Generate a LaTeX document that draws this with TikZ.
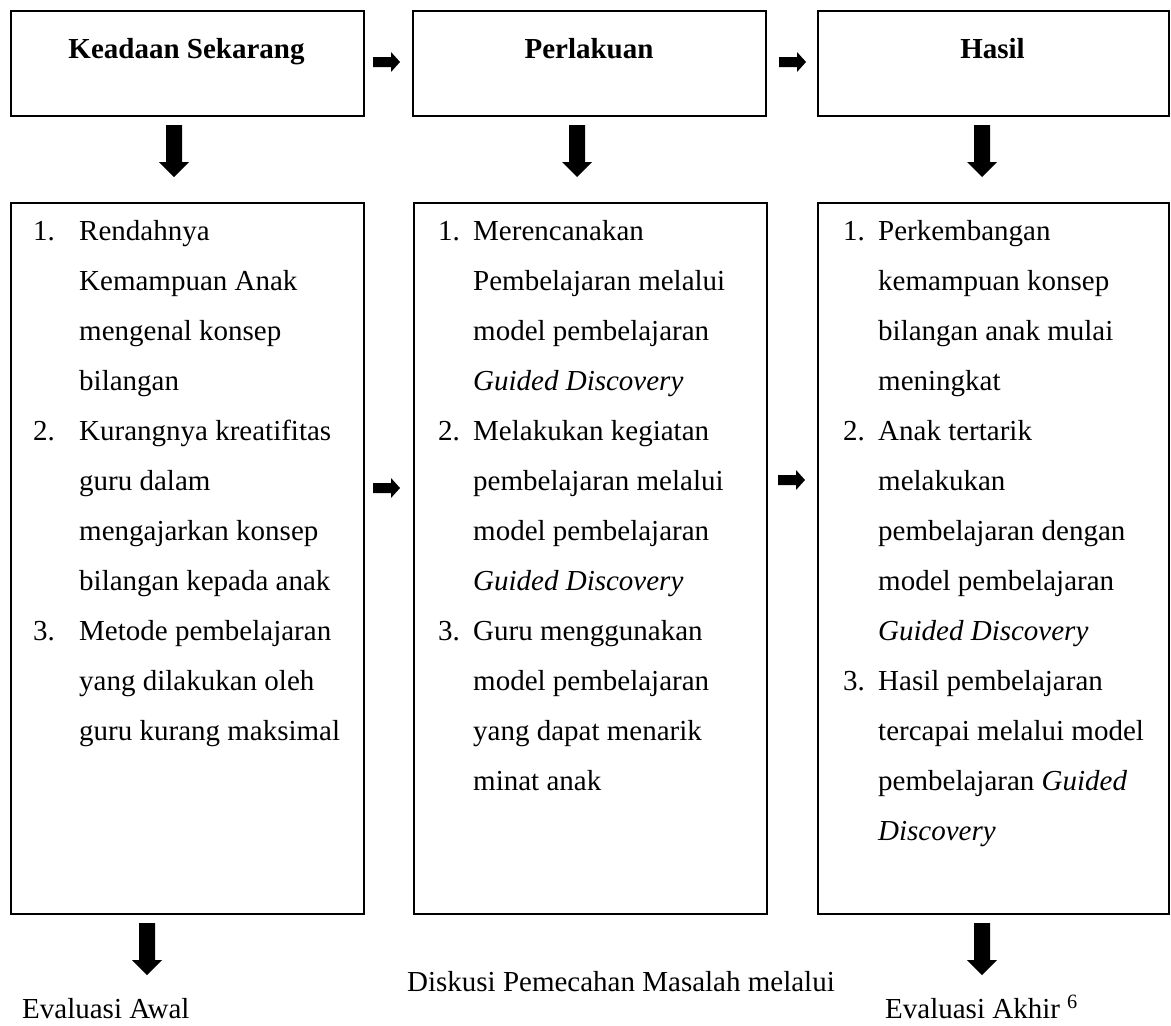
\documentclass[tikz,border=0pt]{standalone}
\usepackage{fontspec}
\setmainfont{Liberation Serif}
\begin{document}
\begin{tikzpicture}[x=1pt, y=-1pt,
    box/.style={draw, line width=1.6pt, anchor=north west, inner sep=0pt},
    title/.style={font=\fontsize{29}{50}\selectfont\bfseries, anchor=base, inner sep=0pt},
    item/.style={font=\fontsize{29}{50}\selectfont, align=left, anchor=north west, inner sep=0pt},
    plain/.style={font=\fontsize{29}{35}\selectfont, anchor=base west, inner sep=0pt},
    downarrow/.pic={\fill (-8,0) -- (8,0) -- (8,37) -- (15,37) -- (0,52) -- (-15,37) -- (-8,37) -- cycle;},
    rightarrow/.pic={\fill (0,-5) -- (18,-5) -- (18,-10) -- (27,0) -- (18,10) -- (18,5) -- (0,5) -- cycle;}
]
    \useasboundingbox (0,0) rectangle (1171,1026);

    % Top boxes with titles
    \node[box, minimum width=353, minimum height=105] (top1) at (10,10) {};
    \node[box, minimum width=353, minimum height=105] (top2) at (412,10) {};
    \node[box, minimum width=351, minimum height=105] (top3) at (817,10) {};
    \node[title] (keadaan) at (186.5,58) {Keadaan Sekarang};
    \node[title] (perlakuan) at (589,58) {Perlakuan};
    \node[title] (hasil) at (992.5,58) {Hasil};

    % Lower boxes
    \node[box, minimum width=353, minimum height=711] (mid1) at (10,202) {};
    \node[box, minimum width=353, minimum height=711] (mid2) at (413,202) {};
    \node[box, minimum width=351, minimum height=711] (mid3) at (817,202) {};

    % Block arrows
    \pic at (373,62) {rightarrow};
    \pic at (779,62) {rightarrow};
    \pic at (373,488) {rightarrow};
    \pic at (778,480) {rightarrow};
    \foreach \ax in {174,577,982}{
        \pic at (\ax,125) {downarrow};
    }
    \pic at (147,923) {downarrow};
    \pic at (982,923) {downarrow};

    % Column 1: Keadaan Sekarang
    \node[plain] (k1num) at (33,240) {1.};
    \node[item] (k1) at (79,218) {\rule{0pt}{22pt}Rendahnya\\Kemampuan Anak\\mengenal konsep\\bilangan};
    \node[plain] (k2num) at (33,440) {2.};
    \node[item] (k2) at (79,418) {\rule{0pt}{22pt}Kurangnya kreatifitas\\guru dalam\\mengajarkan konsep\\bilangan kepada anak};
    \node[plain] (k3num) at (33,640) {3.};
    \node[item] (k3) at (79,618) {\rule{0pt}{22pt}Metode pembelajaran\\yang dilakukan oleh\\guru kurang maksimal};

    % Column 2: Perlakuan
    \node[plain] (p1num) at (438,240) {1.};
    \node[item] (p1) at (473,218) {\rule{0pt}{22pt}Merencanakan\\Pembelajaran melalui\\model pembelajaran\\\textit{Guided Discovery}};
    \node[plain] (p2num) at (438,440) {2.};
    \node[item] (p2) at (473,418) {\rule{0pt}{22pt}Melakukan kegiatan\\pembelajaran melalui\\model pembelajaran\\\textit{Guided Discovery}};
    \node[plain] (p3num) at (438,640) {3.};
    \node[item] (p3) at (473,618) {\rule{0pt}{22pt}Guru menggunakan\\model pembelajaran\\yang dapat menarik\\minat anak};

    % Column 3: Hasil
    \node[plain] (h1num) at (843,240) {1.};
    \node[item] (h1) at (878,218) {\rule{0pt}{22pt}Perkembangan\\kemampuan konsep\\bilangan anak mulai\\meningkat};
    \node[plain] (h2num) at (843,440) {2.};
    \node[item] (h2) at (878,418) {\rule{0pt}{22pt}Anak tertarik\\melakukan\\pembelajaran dengan\\model pembelajaran\\\textit{Guided Discovery}};
    \node[plain] (h3num) at (843,690) {3.};
    \node[item] (h3) at (878,668) {\rule{0pt}{22pt}Hasil pembelajaran\\tercapai melalui model\\pembelajaran \textit{Guided}\\\textit{Discovery}};

    % Bottom texts
    \node[plain] (awal) at (22,1018) {Evaluasi Awal};
    \node[plain, anchor=base east] (diskusi) at (835,991) {Diskusi Pemecahan Masalah melalui};
    \node[plain] (akhir) at (885,1018) {Evaluasi Akhir \textsuperscript{6}};
\end{tikzpicture}
\end{document}
